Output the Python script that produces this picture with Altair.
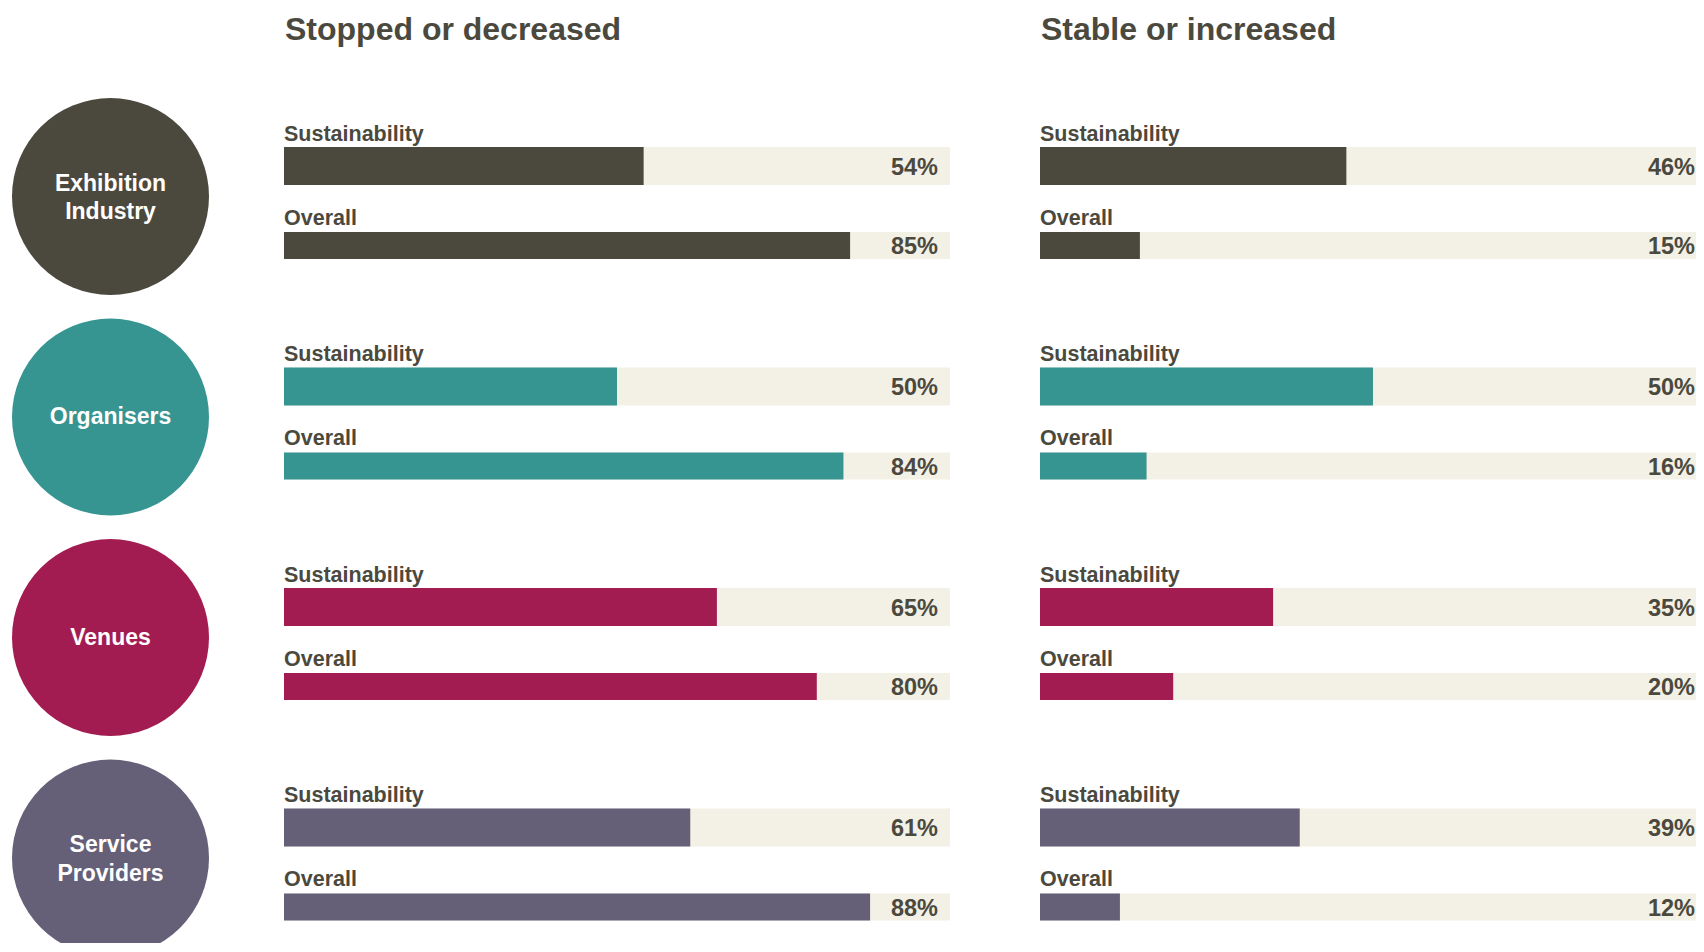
import altair as alt
import pandas as pd

# ---------------- data ----------------
groups = ["Exhibition Industry", "Organisers", "Venues", "Service Providers"]
circle_labels = ["Exhibition\nIndustry", "Organisers", "Venues", "Service\nProviders"]
group_colors = ["#4B493E", "#369491", "#A31C51", "#655F77"]
metrics = ["Sustainability", "Overall"]
panel_titles = ["Stopped or decreased", "Stable or increased"]

stopped_sustainability = [54, 50, 65, 61]
stopped_overall = [85, 84, 80, 88]
stable_sustainability = [46, 50, 35, 39]
stable_overall = [15, 16, 20, 12]

# ---------------- styles ----------------
FONT = "Liberation Sans"
TXT = "#4B493E"
BG = "#F3F0E5"
H = 935

rows = []
for title, sus, ov in [
    (panel_titles[0], stopped_sustainability, stopped_overall),
    (panel_titles[1], stable_sustainability, stable_overall),
]:
    for g, s, o in zip(groups, sus, ov):
        rows.append(dict(panel=title, group=g, metric=metrics[0], value=s))
        rows.append(dict(panel=title, group=g, metric=metrics[1], value=o))
bars_df = pd.DataFrame(rows)

titles_df = pd.DataFrame({"panel": panel_titles, "group": [groups[0]] * 2})
circ_df = pd.DataFrame({"group": groups, "label": circle_labels, "key": ["c"] * len(groups)})

yscale = alt.Scale(type="point", domain=groups, range=[188.5, 850], padding=0)
cscale = alt.Scale(domain=groups, range=group_colors)
Y = alt.Y("group:N", scale=yscale, axis=None)
COL = alt.Color("group:N", scale=cscale, legend=None)

# (metric, bar offset, bar size, label offset, pct offset)
row_styles = [
    (metrics[0], -30.5, 38, -56, -22),
    (metrics[1], 49, 27, 28, 57.5),
]


def bar_panel(title, width, bar_len, pct_dx):
    xs = alt.Scale(domain=[0, 100], range=[0, bar_len], nice=False, zero=True)
    base = alt.Chart(bars_df).transform_filter(alt.datum.panel == title)
    layers = []
    for metric, off, size, lab_off, pct_off in row_styles:
        sub = base.transform_filter(alt.datum.metric == metric).transform_calculate(
            full="100", zero="0", pct="datum.value + '%'"
        )
        bg = sub.mark_bar(color=BG, size=size, yOffset=off, clip=True).encode(
            x=alt.X("zero:Q", scale=xs, axis=None),
            x2="full:Q",
            y=Y,
        )
        fg = sub.mark_bar(size=size, yOffset=off, opacity=1, clip=True).encode(
            x=alt.X("zero:Q", scale=xs, axis=None),
            x2="value:Q",
            y=Y,
            color=COL,
        )
        lab = sub.mark_text(
            align="left", baseline="alphabetic", font=FONT, fontSize=21.5,
            fontWeight="bold", color=TXT, yOffset=lab_off,
        ).encode(x=alt.X("zero:Q", scale=xs, axis=None), y=Y, text="metric:N")
        pct = sub.mark_text(
            align="right", baseline="alphabetic", font=FONT, fontSize=23.5,
            fontWeight="bold", color=TXT, yOffset=pct_off, dx=pct_dx,
        ).encode(x=alt.X("full:Q", scale=xs, axis=None), y=Y, text="pct:N")
        layers += [bg, fg, lab, pct]
    ttl = (
        alt.Chart(titles_df)
        .transform_filter(alt.datum.panel == title)
        .transform_calculate(zero="0")
        .mark_text(
            align="left", baseline="alphabetic", font=FONT, fontSize=32,
            fontWeight="bold", color=TXT, yOffset=-156.5, dx=1,
        )
        .encode(x=alt.X("zero:Q", scale=xs, axis=None), y=Y, text="panel:N")
    )
    layers.append(ttl)
    return alt.layer(*layers).properties(width=width, height=H)


circ_x = alt.X("key:N", scale=alt.Scale(type="point", range=[0, 205], padding=0.5), axis=None)
circles = alt.Chart(circ_df).mark_circle(size=197 * 197, opacity=1, clip=True).encode(
    x=circ_x, y=Y, color=COL
)
text_style = dict(
    align="center", baseline="middle", lineBreak="\n", lineHeight=28.5,
    font=FONT, fontSize=23, fontWeight="bold", color="white",
)
one_line = (
    alt.Chart(circ_df)
    .transform_filter("indexof(datum.label, '\\n') < 0")
    .mark_text(**text_style)
    .encode(x=circ_x, y=Y, text="label:N")
)
two_line = (
    alt.Chart(circ_df)
    .transform_filter("indexof(datum.label, '\\n') >= 0")
    .mark_text(yOffset=-13, **text_style)
    .encode(x=circ_x, y=Y, text="label:N")
)
circle_panel = alt.layer(circles, one_line, two_line).properties(width=276, height=H)

chart = (
    alt.hconcat(
        circle_panel,
        bar_panel(panel_titles[0], 756, 666, -12),
        bar_panel(panel_titles[1], 656, 666, -11),
        spacing=0,
    )
    .resolve_scale(x="independent")
    .properties(padding=0, background="white")
    .configure_view(strokeWidth=0)
)

chart.save("out.html", embed_options={"renderer": "svg", "actions": False})
